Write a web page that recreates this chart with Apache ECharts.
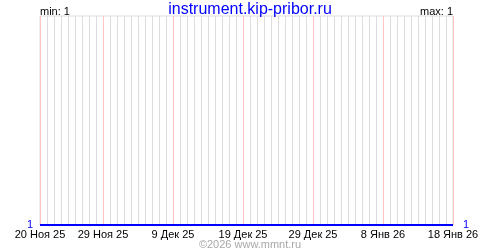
<!DOCTYPE html>
<html><head><meta charset="utf-8">
<script src="https://cdn.jsdelivr.net/npm/echarts@6/dist/echarts.min.js"></script>
<style>html,body{margin:0;padding:0;background:#fff}#c{width:500px;height:250px}</style>
</head><body><div id="c"></div>
<script>
// days since 20 Nov 2025
const tickDays = [0, 9, 19, 29, 39, 49, 59];
const tickLabels = ['20 Ноя 25', '29 Ноя 25', '9 Дек 25', '19 Дек 25', '29 Дек 25', '8 Янв 26', '18 Янв 26'];
const values = [1,1,1,1,1,1,1,1,1,1, 1,1,1,1,1,1,1,1,1,1, 1,1,1,1,1,1,1,1,1,1,
                1,1,1,1,1,1,1,1,1,1, 1,1,1,1,1,1,1,1,1,1, 1,1,1,1,1,1,1,1,1,1];
const titleText = 'instrument.kip-pribor.ru';
const minText = 'min: 1';
const maxText = 'max: 1';
const copyText = '©2026 www.mmnt.ru';

const seriesData = values.map((v, i) => [i, v]);
const dayLines = seriesData.map(p => p[0]).filter(d => tickDays.indexOf(d) < 0);
const font = 'Liberation Sans';
const pink = '#ffc4c4';
const chart = echarts.init(document.getElementById('c'), null, {renderer: 'canvas'});
chart.setOption({
  animation: false,
  backgroundColor: '#fff',
  title: [
    {text: titleText, left: 'center', top: -3, textStyle: {color: '#0000ff', fontFamily: font, fontSize: 16, fontWeight: 'normal'}},
    {text: minText, left: 40, top: 6, padding: 0, textStyle: {color: '#000', fontFamily: font, fontSize: 11, fontWeight: 'normal'}},
    {text: maxText, right: 47, top: 6, padding: 0, textStyle: {color: '#000', fontFamily: font, fontSize: 11, fontWeight: 'normal'}},
    {text: copyText, left: 'center', top: 239, padding: 0, textStyle: {color: '#a8a8a8', fontFamily: font, fontSize: 11, fontWeight: 'normal'}}
  ],
  grid: {left: 40, right: 47, top: 16, bottom: 25, show: true, borderColor: '#dddddd', borderWidth: 1},
  xAxis: [{
    type: 'value', min: 0, max: 59, position: 'bottom',
    axisLine: {show: false},
    axisTick: {show: false, customValues: tickDays},
    splitLine: {show: true, lineStyle: {color: pink, width: 1}},
    axisLabel: {
      customValues: tickDays,
      color: '#000', fontFamily: font, fontSize: 11, margin: 4,
      formatter: v => { const k = tickDays.indexOf(v); return k >= 0 ? tickLabels[k] : ''; }
    }
  }, {
    type: 'value', min: 0, max: 59, position: 'top',
    axisLine: {show: false},
    axisTick: {show: false, customValues: dayLines},
    axisLabel: {show: false, customValues: dayLines},
    splitLine: {show: true, lineStyle: {color: '#dddddd', width: 1}}
  }],
  yAxis: [
    {type: 'value', min: 1, max: 2, interval: 1, position: 'left',
     axisLine: {show: false}, axisTick: {show: false}, splitLine: {show: false},
     axisLabel: {color: '#0000ff', fontFamily: font, fontSize: 11, margin: 7, formatter: v => v === 1 ? '1' : ''}},
    {type: 'value', min: 1, max: 2, interval: 1, position: 'right',
     axisLine: {show: false}, axisTick: {show: false}, splitLine: {show: false},
     axisLabel: {color: '#0000ff', fontFamily: font, fontSize: 11, margin: 10, formatter: v => v === 1 ? '1' : ''}}
  ],
  series: [{
    type: 'line', data: seriesData, showSymbol: false, symbol: 'none',
    lineStyle: {color: '#0000ff', width: 2}, z: 5,
    markLine: {
      silent: true, symbol: 'none', label: {show: false}, z: 3,
      emphasis: {disabled: true},
      lineStyle: {color: pink, width: 1, type: 'solid', opacity: 1},
      data: tickDays.map(d => ({xAxis: d}))
    }
  }]
});
</script></body></html>
